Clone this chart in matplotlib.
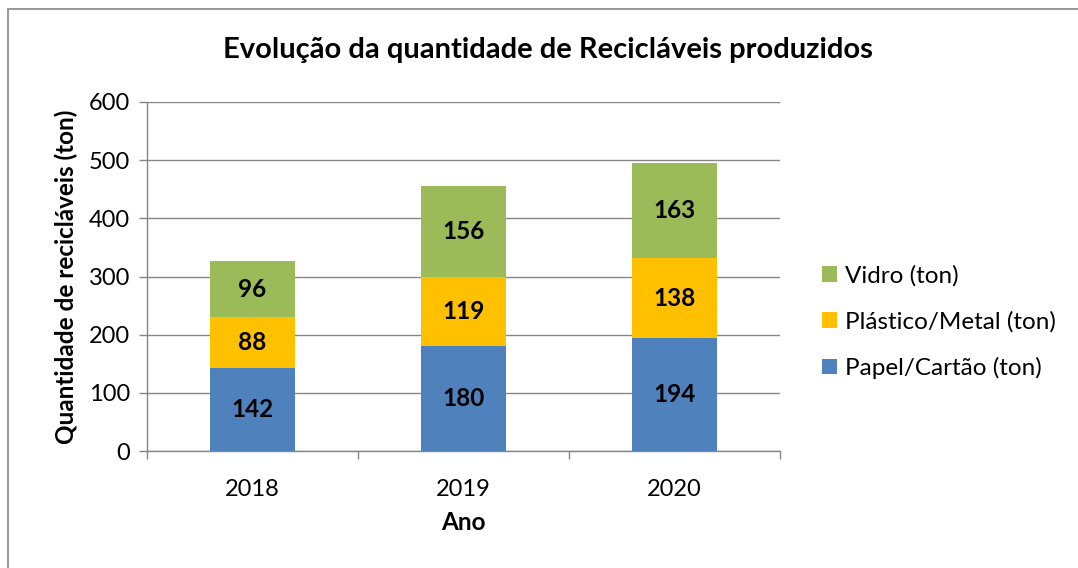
import numpy as np
import matplotlib.pyplot as plt
from matplotlib.patches import Rectangle

plt.rcParams['font.family'] = ['Lato', 'DejaVu Sans']

anos = ['2018', '2019', '2020']
papel = [142, 180, 194]
plastico = [88, 119, 138]
vidro = [96, 156, 163]

cor_papel = '#4F81BD'
cor_plastico = '#FFC000'
cor_vidro = '#9BBB59'
cinza = '#868686'

fig = plt.figure(figsize=(10.78, 5.68), dpi=100)
ax = fig.add_axes([147/1078, 1 - 451/568, (780-147)/1078, (451-102)/568])

# moldura do grafico (so esquerda e topo ficam visiveis)
fig.patches.append(Rectangle((8/1078, -0.1), 1.2, 1.1 - 9/568, transform=fig.transFigure,
                             fill=False, edgecolor=cinza, linewidth=1.2))

x = np.arange(len(anos))
w = 0.4
b1 = ax.bar(x, papel, w, color=cor_papel, label='Papel/Cartão (ton)', zorder=3)
base2 = np.array(papel)
b2 = ax.bar(x, plastico, w, bottom=base2, color=cor_plastico, label='Plástico/Metal (ton)', zorder=3)
base3 = base2 + np.array(plastico)
b3 = ax.bar(x, vidro, w, bottom=base3, color=cor_vidro, label='Vidro (ton)', zorder=3)

for bars in (b1, b2, b3):
    ax.bar_label(bars, label_type='center', fontsize=17.5, fontweight='bold', color='black')

ax.set_xlim(-0.5, 2.5)
ax.set_ylim(0, 600)
ax.set_yticks(range(0, 601, 100))
ax.yaxis.grid(True, color=cinza, linewidth=1)
ax.set_axisbelow(True)

ax.set_xticks(x)
ax.set_xticklabels(anos)
ax.set_xticks([-0.5, 0.5, 1.5, 2.5], minor=True)
ax.tick_params(axis='x', which='major', length=0, labelsize=17, pad=20)
ax.tick_params(axis='x', which='minor', length=6, color=cinza, width=1)
ax.tick_params(axis='y', length=6, color=cinza, width=1, labelsize=17, pad=6)

for s in ['top', 'right']:
    ax.spines[s].set_visible(False)
for s in ['left', 'bottom']:
    ax.spines[s].set_color(cinza)
    ax.spines[s].set_linewidth(1)

ax.set_xlabel('Ano', fontsize=17.5, fontweight='bold', labelpad=8)
ax.set_ylabel('Quantidade de recicláveis (ton)', fontsize=17.5, fontweight='bold', labelpad=8)

fig.text(548/1078, 1 - 50/568, 'Evolução da quantidade de Recicláveis produzidos',
         ha='center', va='center', fontsize=21, fontweight='bold')

handles = [b3, b2, b1]
ax.legend(handles, [h.get_label() for h in handles], loc='center left',
          bbox_to_anchor=(810/1078, 1 - 322/568), bbox_transform=fig.transFigure,
          frameon=False, fontsize=17.5, handlelength=0.6, handleheight=0.6,
          handletextpad=0.35, labelspacing=1.0, borderpad=0)

fig.savefig('out.png', dpi=100)
